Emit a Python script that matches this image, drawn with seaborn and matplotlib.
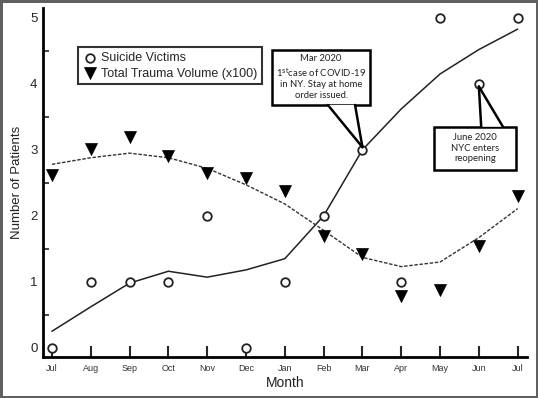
import matplotlib
matplotlib.use("Agg")
import matplotlib.pyplot as plt
from matplotlib.patches import Rectangle, Polygon
import seaborn as sns
import pandas as pd
import numpy as np

months = ["Jul", "Aug", "Sep", "Oct", "Nov", "Dec", "Jan", "Feb", "Mar", "Apr", "May", "Jun", "Jul"]
suicide_victims = [0, 1, 1, 1, 2, 0, 1, 2, 3, 1, 5, 4, 5]
trauma_volume = [2.62, 3.02, 3.2, 2.9, 2.65, 2.57, 2.38, 1.70, 1.42, 0.78, 0.87, 1.55, 2.3]
suicide_fit = [0.25, 0.62, 0.98, 1.16, 1.07, 1.18, 1.35, 2.0, 3.0, 3.62, 4.15, 4.52, 4.83]
trauma_fit = [2.78, 2.88, 2.95, 2.88, 2.72, 2.47, 2.18, 1.78, 1.37, 1.23, 1.30, 1.67, 2.11]

sns.set_style("white")
plt.rcParams['font.family'] = ['Liberation Sans', 'DejaVu Sans']

df = pd.DataFrame({
    "idx": np.arange(len(months)),
    "month": months,
    "suicide": suicide_victims,
    "trauma": trauma_volume,
    "suicide_fit": suicide_fit,
    "trauma_fit": trauma_fit,
})

fig = plt.figure(figsize=(5.38, 3.98), dpi=100, linewidth=2.5, edgecolor="#606060")
ax = fig.add_axes([43/538, 1 - 357/398, (527-43)/538, (357-8)/398])

sns.lineplot(data=df, x="idx", y="suicide_fit", ax=ax, color="#222222", lw=1.1)
sns.lineplot(data=df, x="idx", y="trauma_fit", ax=ax, color="#333333", lw=1.0, linestyle=(0, (2.5, 1.2)))
sns.scatterplot(data=df, x="idx", y="suicide", ax=ax, marker="o", s=38, facecolor="white",
                edgecolor="#222222", linewidth=1.3, zorder=5, label="Suicide Victims")
sns.scatterplot(data=df, x="idx", y="trauma", ax=ax, marker="v", s=75, color="black",
                edgecolor="black", linewidth=0.5, zorder=5, label="Total Trauma Volume (x100)")

ax.set_xlim(-0.23, 12.24)
ax.set_ylim(-0.14, 5.15)
ax.set_xticks(df["idx"])
ax.set_xticklabels(months, fontsize=6.5, color="#333333")
ax.set_yticks(range(6))
ax.set_yticks(np.arange(0.5, 5, 1), minor=True)
ax.tick_params(axis="y", which="major", direction="in", length=9, width=1.5, labelsize=9.5, pad=4)
ax.tick_params(axis="y", which="minor", direction="in", length=4, width=1.2, left=True)
ax.tick_params(axis="x", which="major", direction="in", length=8, width=1.5, pad=5, bottom=True)
for s in ["top", "right"]:
    ax.spines[s].set_visible(False)
for s in ["left", "bottom"]:
    ax.spines[s].set_linewidth(2)
    ax.spines[s].set_color("black")
ax.set_xlabel("Month", fontsize=10, labelpad=2, color="#222222")
ax.set_ylabel("Number of Patients", fontsize=9.5, labelpad=5, color="#222222")

leg = ax.legend(loc="upper left", bbox_to_anchor=(0.072, 0.887), frameon=True, fancybox=False,
                fontsize=9, handletextpad=0.3, borderpad=0.35, labelspacing=0.3, handlelength=1.2,
                borderaxespad=0)
leg.get_frame().set_edgecolor("black")
leg.get_frame().set_linewidth(1.5)

ann_font = ['Lato', 'DejaVu Sans']


def callout(text, box, base, tip):
    x0, x1, y0, y1 = box
    ax.add_patch(Rectangle((x0, y0), x1 - x0, y1 - y0, fc="white", ec="black", lw=1.8, zorder=6))
    by, bx0, bx1 = base
    ax.add_patch(Polygon([(bx0, by), (bx1, by), tip], closed=True, fc="white", ec="none", zorder=7))
    ax.plot([bx0, tip[0]], [by, tip[1]], color="black", lw=1.8, zorder=7, solid_capstyle="round")
    ax.plot([bx1, tip[0]], [by, tip[1]], color="black", lw=1.8, zorder=7, solid_capstyle="round")
    ax.text((x0 + x1) / 2, (y0 + y1) / 2, text, ha="center", va="center", fontsize=6.8,
            family=ann_font, linespacing=1.25, zorder=8, color="#222222")


callout("Mar 2020\n1$^{\\mathrm{st}}$case of COVID-19\nin NY. Stay at home\norder issued.",
        box=(5.67, 8.20, 3.68, 4.52), base=(3.68, 7.11, 7.81), tip=(8, 3.04))
callout("June 2020\nNYC enters\nreopening",
        box=(9.85, 11.96, 2.70, 3.35), base=(3.35, 11.06, 11.62), tip=(11, 3.96))

fig.savefig("out.png", dpi=100)
